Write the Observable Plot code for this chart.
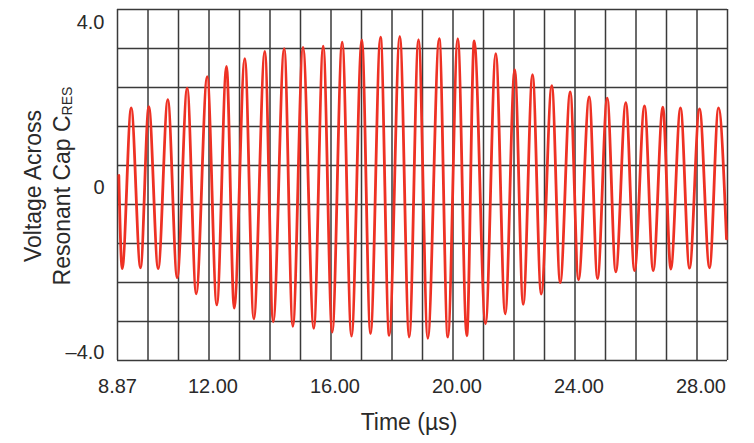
<!DOCTYPE html>
<html>
<head>
<meta charset="utf-8">
<script src="https://cdn.jsdelivr.net/npm/d3@7"></script>
<script src="https://cdn.jsdelivr.net/npm/@observablehq/plot@0.6"></script>
<style>
  html, body { margin: 0; padding: 0; background: #ffffff; }
  #chart { width: 754px; height: 443px; }
</style>
</head>
<body>
<div id="chart"></div>
<script>
// ---- Data (extrema of the waveform) ----
const timeUs = [
  8.913, 9.024, 9.319, 9.624, 9.896, 10.204, 10.519, 10.827, 11.155, 11.450,
  11.811, 12.126, 12.444, 12.696, 13.044, 13.339, 13.700, 13.975, 14.336, 14.618,
  14.952, 15.306, 15.614, 15.909, 16.237, 16.542, 16.880, 17.165, 17.493, 17.778,
  18.126, 18.434, 18.739, 19.044, 19.418, 19.700, 20.027, 20.322, 20.565, 20.936,
  21.273, 21.581, 21.893, 22.172, 22.477, 22.762, 23.109, 23.385, 23.713, 23.985,
  24.336, 24.608, 24.926, 25.208, 25.536, 25.821, 26.149, 26.434, 26.749, 27.011,
  27.329, 27.624, 27.952, 28.280, 28.575, 28.837
];
const voltage = [
  0.29, -1.97, 1.93, -1.95, 1.96, -1.97, 2.13, -2.19, 2.41, -2.58,
  2.69, -2.85, 2.94, -2.93, 3.13, -3.19, 3.30, -3.26, 3.37, -3.37,
  3.40, -3.42, 3.43, -3.51, 3.53, -3.61, 3.58, -3.55, 3.65, -3.59,
  3.67, -3.63, 3.59, -3.66, 3.61, -3.63, 3.61, -3.60, 3.56, -3.31,
  3.25, -3.07, 2.86, -2.84, 2.74, -2.59, 2.47, -2.31, 2.32, -2.24,
  2.20, -2.21, 2.17, -2.05, 2.06, -2.02, 1.98, -2.02, 1.95, -1.98,
  1.93, -1.96, 1.91, -1.95, 1.93, -1.25
];
const xTickValues = [8.87, 12, 16, 20, 24, 28];
const yTickValues = [-4, 0, 4];
const xTitle = "Time (µs)";
const yTitleLine1 = "Voltage Across";
const yTitleLine2 = "Resonant Cap C";
const yTitleSub = "RES";

// ---- Layout ----
const xDomain = [8.87, 28.87];
const yDomain = [-4.2, 4.32];
const xGrid = d3.range(21).map(i => xDomain[0] + i * (xDomain[1] - xDomain[0]) / 20);
const yGrid = d3.range(10).map(i => yDomain[0] + i * (yDomain[1] - yDomain[0]) / 9);

const data = timeUs.map((t, i) => ({t, v: voltage[i]}));
const font = "'Liberation Sans', Arial, Helvetica, sans-serif";
const gridStyle = {stroke: "#3a3a3a", strokeOpacity: 1, strokeWidth: 1.5};

const chart = Plot.plot({
  width: 754,
  height: 443,
  marginLeft: 117,
  marginRight: 27,
  marginTop: 9,
  marginBottom: 83,
  style: {fontFamily: font, background: "#ffffff", color: "#2a2a2a", overflow: "visible"},
  x: {domain: xDomain},
  y: {domain: yDomain},
  marks: [
    Plot.gridX(xGrid, gridStyle),
    Plot.gridY(yGrid, gridStyle),
    Plot.line(data, {x: "t", y: "v", stroke: "#ee3124", strokeWidth: 2.8, curve: "monotone-x"}),
    Plot.axisX(xTickValues, {
      tickSize: 0, tickPadding: 18, fontSize: 20,
      tickFormat: d3.format(".2f"), label: null
    }),
    Plot.axisY(yTickValues, {
      tickSize: 0, tickPadding: 13, fontSize: 20,
      tickFormat: d => d === 0 ? "0" : (d < 0 ? "\u2013" : "") + Math.abs(d).toFixed(1),
      label: null
    })
  ]
});

const svg = d3.select(chart);
svg.append("text")
  .attr("x", 409).attr("y", 430)
  .attr("text-anchor", "middle")
  .attr("font-family", font).attr("font-size", 23).attr("fill", "#2a2a2a")
  .text(xTitle);

svg.append("text")
  .attr("transform", "translate(41,186) rotate(-90)")
  .attr("text-anchor", "middle")
  .attr("font-family", font).attr("font-size", 23).attr("fill", "#2a2a2a")
  .text(yTitleLine1);

const t2 = svg.append("text")
  .attr("transform", "translate(70,186) rotate(-90)")
  .attr("text-anchor", "middle")
  .attr("font-family", font).attr("font-size", 23).attr("fill", "#2a2a2a");
t2.append("tspan").text(yTitleLine2);
t2.append("tspan").attr("font-size", 14).attr("dy", 2).text(yTitleSub);

document.getElementById("chart").appendChild(chart);
</script>
</body>
</html>
